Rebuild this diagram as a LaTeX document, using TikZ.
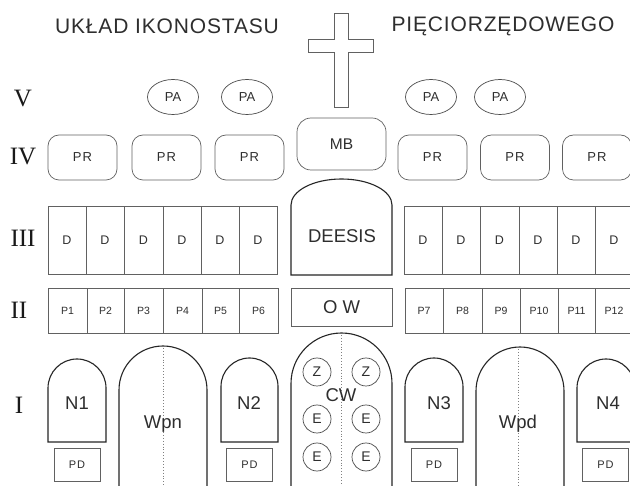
\documentclass[tikz,border=0pt]{standalone}
\usepackage{fontspec}
\setmainfont{Liberation Sans}
\newfontfamily\romanfont{Liberation Serif}
\usetikzlibrary{shapes.geometric}
\begin{document}
\begin{tikzpicture}[x=1pt,y=-1pt,
  thinline/.style={draw=black!62, line width=0.7pt},
  archline/.style={draw=black!85, line width=1.1pt},
  lbl/.style={text=black!82, inner sep=0pt},
  cell/.style={thinline, rectangle, inner sep=0pt, outer sep=0pt, text=black!82},
  dcell/.style={cell, minimum height=68pt, font=\fontsize{12.5}{13}\selectfont},
  pcell/.style={cell, minimum height=45pt, font=\fontsize{10.5}{11}\selectfont},
  pabox/.style={thinline, draw=black!70, ellipse, minimum width=51pt, minimum height=35pt, inner sep=0pt, text=black!82, font=\fontsize{13}{13}\selectfont},
  prbox/.style={thinline, rectangle, rounded corners=11pt, minimum width=69pt, minimum height=45pt, inner sep=0pt, text=black!82, font=\addfontfeature{LetterSpace=8}\fontsize{13}{13}\selectfont},
  pdbox/.style={thinline, rectangle, minimum width=46pt, minimum height=33pt, inner sep=0pt, text=black!82, font=\addfontfeature{LetterSpace=8}\fontsize{11}{11}\selectfont},
  circ/.style={thinline, draw=black!70, circle, minimum size=28pt, inner sep=0pt, text=black!82, font=\fontsize{14}{14}\selectfont},
  roman/.style={lbl, text=black!90, font=\romanfont\fontsize{25}{25}\selectfont},
  big/.style={lbl, font=\fontsize{18.5}{19}\selectfont},
  title/.style={lbl, font=\addfontfeature{LetterSpace=4}\fontsize{21}{21}\selectfont},
  dotline/.style={draw=black!50, line width=0.9pt, dotted}
]
\useasboundingbox (0,0) rectangle (630,486);
\fill[white] (0,0) rectangle (630,486);
\clip (0,0) rectangle (630,486);

% titles
\node[title] (t1) at (167,26) {UKŁAD IKONOSTASU};
\node[title] (t2) at (503,26) {PIĘCIORZĘDOWEGO};

% cross
\draw[thinline] (334,13) -- (348,13) -- (348,39) -- (373,39) -- (373,52) -- (348,52)
  -- (348,107) -- (334,107) -- (334,52) -- (308,52) -- (308,39) -- (334,39) -- cycle;

% roman numerals
\node[roman] (r5) at (23,99) {V};
\node[roman] (r4) at (23,157) {IV};
\node[roman] (r3) at (23,238) {III};
\node[roman] (r2) at (19,310) {II};
\node[roman] (r1) at (19,405) {I};

% row V
\node[pabox] (pa1) at (173,97) {PA};
\node[pabox] (pa2) at (247,97) {PA};
\node[pabox] (pa3) at (431,97) {PA};
\node[pabox] (pa4) at (500,97) {PA};

% row IV
\node[prbox] (pr1) at (82.5,157.5) {PR};
\node[prbox] (pr2) at (166.5,157.5) {PR};
\node[prbox] (pr3) at (249.5,157.5) {PR};
\node[prbox] (pr4) at (432.5,157.5) {PR};
\node[prbox] (pr5) at (515,157.5) {PR};
\node[prbox] (pr6) at (597,157.5) {PR};
\node[thinline, rectangle, rounded corners=14pt, minimum width=89pt, minimum height=52pt,
  inner sep=0pt, text=black!82, font=\fontsize{15.5}{16}\selectfont] (mb) at (341.5,144) {MB};

% row III
\foreach \a/\b [count=\i] in {48/86,86/124,124/163,163/201,201/239,239/277}
  \node[dcell, minimum width={\b-\a}] (dl\i) at ({(\a+\b)/2},240) {D};
\foreach \a/\b [count=\i] in {404/442,442/480,480/519,519/557,557/595,595/633}
  \node[dcell, minimum width={\b-\a}] (dr\i) at ({(\a+\b)/2},240.5) {D};
\draw[archline] (291,275) -- (291,205) arc[start angle=180, end angle=0, x radius=50.5pt, y radius=26pt] -- (392,275) -- cycle;
\node[big] (deesis) at (342,236) {DEESIS};

% row II
\foreach \a/\b [count=\i] in {48/87,87/124,124/163,163/202,202/239,239/278}
  \node[pcell, minimum width={\b-\a}] (pl\i) at ({(\a+\b)/2},310.5) {P\i};
\foreach \a/\b/\t [count=\i] in {405/443/7,443/482/8,482/520/9,520/558/10,558/595/11,595/633/12}
  \node[pcell, minimum width={\b-\a}] (pr\i x) at ({(\a+\b)/2},310.5) {P\t};
\node[cell, minimum width=101pt, minimum height=38pt, font=\fontsize{18.5}{19}\selectfont] (ow) at (341.5,307) {O W};

% row I : niches
\draw[archline] (48,442) -- (48,388) arc[start angle=180, end angle=0, radius=29pt] -- (106,442) -- cycle;
\draw[archline] (221,442) -- (221,386.5) arc[start angle=180, end angle=0, radius=28.5pt] -- (278,442) -- cycle;
\draw[archline] (405,442) -- (405,387) arc[start angle=180, end angle=0, radius=29pt] -- (463,442) -- cycle;
\draw[archline] (577,442) -- (577,388) arc[start angle=180, end angle=0, radius=29pt] -- (635,442) -- cycle;
\node[big] (n1) at (77,403) {N1};
\node[big] (n2) at (249,403) {N2};
\node[big] (n3) at (439,403) {N3};
\node[big] (n4) at (608,403) {N4};

% PD boxes
\node[pdbox] (pd1) at (77,464.5) {PD};
\node[pdbox] (pd2) at (249.5,464.5) {PD};
\node[pdbox] (pd3) at (434,464.5) {PD};
\node[pdbox] (pd4) at (605.5,464.5) {PD};

% doors
\draw[dotline] (163,348) -- (163,490);
\draw[dotline] (518,349) -- (518,490);
\draw[dotline] (341.5,335) -- (341.5,490);
\draw[archline] (119,492) -- (119,390) arc[start angle=180, end angle=0, radius=44pt] -- (207,492);
\draw[archline] (476,492) -- (476,391) arc[start angle=180, end angle=0, radius=44pt] -- (564,492);
\draw[archline] (291,492) -- (291,383.5) arc[start angle=180, end angle=0, radius=50.5pt] -- (392,492);
\node[big] (wpn) at (163,424) {Wpn};
\node[big] (wpd) at (518,424) {Wpd};

% royal doors icons
\node[circ] (z1) at (317,372) {Z};
\node[circ] (z2) at (366,372) {Z};
\node[circ] (e1) at (317,419) {E};
\node[circ] (e2) at (366,419) {E};
\node[circ] (e3) at (317,457) {E};
\node[circ] (e4) at (366,457) {E};
\node[big] (cw) at (341,395) {CW};
\end{tikzpicture}
\end{document}
